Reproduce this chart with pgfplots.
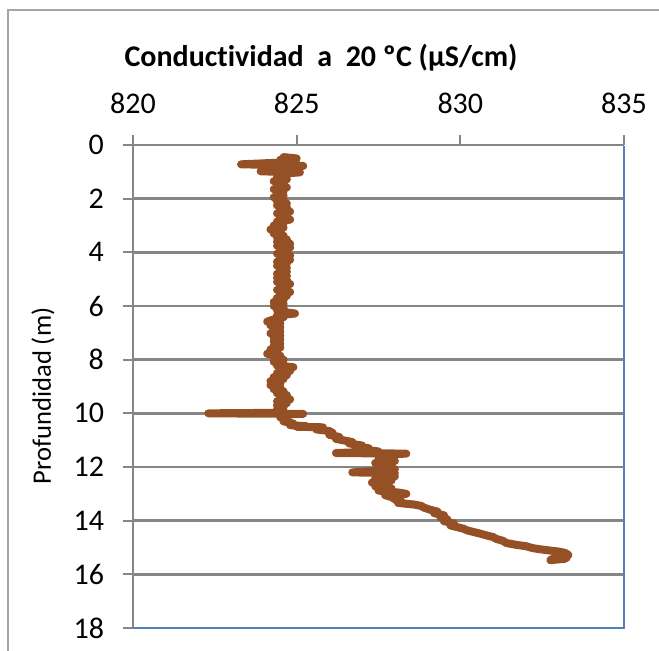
\documentclass[border=0pt]{standalone}
\usepackage{fontspec}
\setmainfont{Carlito}[Ligatures=NoCommon]
\usepackage{pgfplots}
\pgfplotsset{compat=1.18}
\definecolor{trace}{RGB}{150,80,38}
\definecolor{gridgray}{RGB}{134,134,134}
\definecolor{frameblue}{RGB}{79,129,189}
\definecolor{bordergray}{RGB}{165,165,165}

\pgfplotstableread{
c d
824.6 0.45
825.0 0.50
824.5 0.55
824.9 0.60
824.6 0.65
823.3 0.72
824.7 0.75
825.2 0.78
824.5 0.85
824.8 0.90
823.9 0.98
825.1 1.02
824.4 1.08
824.7 1.15
824.4 1.20
824.7 1.28
824.3 1.35
824.6 1.42
824.4 1.50
824.7 1.58
824.3 1.65
824.6 1.72
824.4 1.80
824.6 1.88
824.3 1.95
824.6 2.02
824.4 2.10
824.7 2.18
824.4 2.25
824.7 2.32
824.5 2.40
824.8 2.48
824.4 2.55
824.7 2.62
824.5 2.70
824.8 2.78
824.4 2.85
824.6 2.92
824.3 3.00
824.6 3.08
824.2 3.15
824.5 3.22
824.3 3.30
824.6 3.38
824.4 3.45
824.7 3.52
824.4 3.60
824.8 3.68
824.4 3.75
824.8 3.82
824.5 3.90
824.7 3.98
824.4 4.05
824.8 4.12
824.5 4.20
824.8 4.28
824.4 4.35
824.7 4.42
824.4 4.50
824.7 4.58
824.5 4.65
824.7 4.72
824.4 4.80
824.7 4.88
824.4 4.95
824.7 5.02
824.4 5.10
824.8 5.18
824.5 5.25
824.7 5.32
824.4 5.40
824.8 5.48
824.5 5.55
824.7 5.62
824.4 5.70
824.6 5.78
824.3 5.85
824.6 5.92
824.3 6.00
824.6 6.08
824.4 6.15
824.6 6.22
824.95 6.28
824.4 6.35
824.6 6.42
824.3 6.50
824.1 6.58
824.5 6.65
824.2 6.72
824.5 6.80
824.3 6.88
824.5 6.95
824.2 7.02
824.5 7.10
824.3 7.18
824.5 7.25
824.3 7.32
824.5 7.40
824.3 7.48
824.5 7.55
824.2 7.62
824.4 7.70
824.1 7.78
824.5 7.85
824.3 7.92
824.6 8.00
824.3 8.08
824.6 8.15
824.4 8.22
824.9 8.28
824.5 8.35
824.8 8.42
824.4 8.50
824.7 8.58
824.3 8.65
824.6 8.72
824.2 8.80
824.5 8.88
824.2 8.95
824.5 9.02
824.3 9.10
824.6 9.18
824.4 9.25
824.7 9.32
824.5 9.40
824.8 9.48
824.4 9.55
824.7 9.62
824.4 9.70
824.6 9.78
824.4 9.85
824.6 9.92
824.5 9.98
822.3 10.00
825.2 10.02
824.5 10.05
824.6 10.10
824.5 10.15
824.7 10.22
824.6 10.30
824.9 10.38
824.8 10.44
825.3 10.48
825.0 10.50
825.8 10.52
825.6 10.60
826.0 10.66
826.1 10.73
826.0 10.80
826.3 10.88
826.2 10.95
826.4 11.00
826.7 11.07
826.6 11.12
827.0 11.20
826.9 11.25
827.2 11.30
827.1 11.36
827.5 11.42
826.2 11.48
828.35 11.50
827.6 11.55
827.9 11.62
827.5 11.70
828.0 11.78
827.4 11.85
827.9 11.92
827.5 12.00
828.0 12.08
827.4 12.15
826.7 12.20
828.0 12.23
827.5 12.28
828.0 12.35
827.4 12.42
827.9 12.50
827.3 12.58
827.8 12.65
827.4 12.72
827.9 12.80
827.5 12.88
828.1 12.95
828.35 13.00
827.7 13.05
827.9 13.12
828.0 13.20
828.2 13.28
828.1 13.34
828.6 13.40
828.8 13.45
828.9 13.52
829.1 13.60
829.3 13.66
829.2 13.72
829.5 13.80
829.4 13.88
829.6 13.95
829.5 14.02
829.8 14.10
829.7 14.18
829.9 14.24
830.1 14.30
830.2 14.36
830.4 14.42
830.6 14.48
830.8 14.55
831.0 14.61
831.1 14.68
831.3 14.75
831.4 14.83
831.7 14.90
832.0 14.95
832.2 15.02
832.4 15.06
832.65 15.10
833.0 15.15
833.2 15.20
833.3 15.28
833.0 15.33
833.25 15.38
832.8 15.43
832.75 15.47
833.2 15.42
}\conddata

\begin{document}
\begin{tikzpicture}
\useasboundingbox (-66.5bp,-11.5bp) rectangle (263bp,314bp);
\draw[bordergray, line width=0.8bp] (-62.5bp,-20bp) -- (-62.5bp,309bp) -- (280bp,309bp);
\begin{axis}[
  at={(0,0)}, anchor=south west,
  scale only axis, width=245.5bp, height=241.5bp,
  xmin=820, xmax=835, ymin=0, ymax=18,
  y dir=reverse,
  axis x line=top, axis y line=left,
  axis line style={gridgray, line width=1bp, -},
  xtick={820,825,830,835},
  ytick={0,2,...,18},
  tick align=outside,
  major tick length=5bp,
  tick style={gridgray, line width=1bp},
  ymajorgrids,
  grid style={gridgray, line width=1.2bp},
  tick label style={font=\fontsize{15bp}{17bp}\selectfont},
  xticklabel style={yshift=7bp},
  yticklabel style={xshift=-6bp},
  /pgf/number format/assume math mode=true,
  clip=false,
]
\addplot[trace, line width=4bp, line join=round, line cap=round] table[x=c, y=d] {\conddata};
\draw[frameblue, line width=1bp] (axis cs:820,18) -- (axis cs:835,18) -- (axis cs:835,0.05);
\end{axis}
\node[font=\bfseries\fontsize{15bp}{18bp}\selectfont, anchor=base] at (94bp,280.5bp) {Conductividad\ \ a\ \ 20 ºC (µS/cm)};
\node[rotate=90, font=\fontsize{13.3bp}{16bp}\selectfont] at (-45bp,116bp) {Profundidad (m)};
\end{tikzpicture}
\end{document}
